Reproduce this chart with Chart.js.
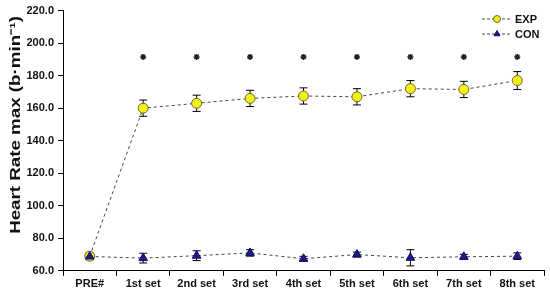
<!DOCTYPE html>
<html>
<head>
<meta charset="utf-8">
<script src="https://cdn.jsdelivr.net/npm/chart.js@4.4.1/dist/chart.umd.min.js"></script>
<style>
  html, body { margin: 0; padding: 0; background: #fff; }
  #wrap { width: 550px; height: 293px; }
</style>
</head>
<body>
<div id="wrap"><canvas id="chart"></canvas></div>
<script>
// categories and values
const categories = ['PRE#', '1st set', '2nd set', '3rd set', '4th set', '5th set', '6th set', '7th set', '8th set'];
const expValues = [69, 160, 163, 166, 167.5, 167, 172, 171.5, 177];
const expErrors = [2, 5, 5, 5, 5, 5, 5, 5, 5.5];
const conValues = [68.8, 67.8, 69.3, 71, 67.4, 70, 68, 68.6, 69];
const conErrors = [2, 3, 3, 2, 1.5, 1.5, 5, 1.5, 2];
const starValues = [null, 191.5, 191.5, 191.5, 191.5, 191.5, 191.5, 191.5, 191.5];
const yTicks = [60, 80, 100, 120, 140, 160, 180, 200, 220];
const yTitle = 'Heart Rate max (b·min⁻¹)';

const FONT = 'Arial, "Liberation Sans", sans-serif';

// error bars, drawn under the markers
const errorBars = {
    id: 'errorBars',
    beforeDatasetsDraw(chart) {
        const ctx = chart.ctx;
        const y = chart.scales.y;
        const sets = [[0, expValues, expErrors], [1, conValues, conErrors]];
        ctx.save();
        ctx.strokeStyle = '#000';
        ctx.lineWidth = 1;
        sets.forEach(([idx, vals, errs]) => {
            const meta = chart.getDatasetMeta(idx);
            meta.data.forEach((pt, i) => {
                const top = y.getPixelForValue(vals[i] + errs[i]);
                const bot = y.getPixelForValue(vals[i] - errs[i]);
                ctx.beginPath();
                ctx.moveTo(pt.x, top); ctx.lineTo(pt.x, bot);
                ctx.moveTo(pt.x - 4, top); ctx.lineTo(pt.x + 4, top);
                ctx.moveTo(pt.x - 4, bot); ctx.lineTo(pt.x + 4, bot);
                ctx.stroke();
            });
        });
        ctx.restore();
    }
};

// y title, a bit stretched along its length like the original
const yTitlePlugin = {
    id: 'yTitlePlugin',
    afterDraw(chart) {
        const ctx = chart.ctx;
        ctx.save();
        ctx.translate(15.5, 125);
        ctx.rotate(-Math.PI / 2);
        ctx.scale(1.25, 1);
        ctx.fillStyle = '#111';
        ctx.font = 'bold 15px ' + FONT;
        ctx.textAlign = 'center';
        ctx.textBaseline = 'middle';
        ctx.fillText(yTitle, 0, 0);
        ctx.restore();
    }
};

// legend with dashed line + marker, top right
const lineLegend = {
    id: 'lineLegend',
    afterDraw(chart) {
        const ctx = chart.ctx;
        const items = [
            { text: 'EXP', y: 19, ds: chart.data.datasets[0] },
            { text: 'CON', y: 34, ds: chart.data.datasets[1] }
        ];
        ctx.save();
        items.forEach(it => {
            ctx.strokeStyle = '#444';
            ctx.lineWidth = 1;
            ctx.setLineDash([3, 2]);
            ctx.beginPath();
            ctx.moveTo(482, it.y); ctx.lineTo(511, it.y);
            ctx.stroke();
            ctx.setLineDash([]);
            ctx.fillStyle = it.ds.pointBackgroundColor;
            ctx.strokeStyle = it.ds.pointBorderColor;
            Chart.helpers.drawPoint(ctx, {
                pointStyle: it.ds.pointStyle,
                radius: 3.5,
                borderWidth: 1
            }, 497, it.y);
            ctx.fillStyle = '#111';
            ctx.font = 'bold 11px ' + FONT;
            ctx.textBaseline = 'middle';
            ctx.fillText(it.text, 515, it.y + 1);
        });
        ctx.restore();
    }
};

new Chart(document.getElementById('chart'), {
    type: 'line',
    data: {
        labels: categories,
        datasets: [
            {
                label: 'EXP',
                data: expValues,
                order: 1,
                borderColor: '#444',
                borderWidth: 1,
                borderDash: [3, 3],
                pointStyle: 'circle',
                pointRadius: 5,
                pointBackgroundColor: '#f2ef1c',
                pointBorderColor: '#6b6b20',
                pointBorderWidth: 1,
                tension: 0
            },
            {
                label: 'CON',
                data: conValues,
                order: 0,
                borderColor: '#444',
                borderWidth: 1,
                borderDash: [3, 3],
                pointStyle: 'triangle',
                pointRadius: 5,
                pointBackgroundColor: '#1a1a90',
                pointBorderColor: '#10105a',
                pointBorderWidth: 1,
                tension: 0
            },
            {
                label: 'sig',
                data: starValues,
                order: 2,
                showLine: false,
                pointStyle: 'star',
                pointRadius: 3,
                pointBorderColor: '#222',
                pointBorderWidth: 1.5,
                pointBackgroundColor: '#222'
            }
        ]
    },
    options: {
        responsive: true,
        maintainAspectRatio: false,
        animation: false,
        layout: { padding: { top: 5, right: 5, left: 0, bottom: 0 } },
        plugins: {
            legend: { display: false },
            tooltip: { enabled: false }
        },
        scales: {
            x: {
                offset: true,
                grid: {
                    display: true,
                    offset: true,
                    drawOnChartArea: false,
                    drawTicks: true,
                    tickLength: 5,
                    color: '#000'
                },
                border: { display: true, color: '#000', width: 1 },
                ticks: {
                    color: '#111',
                    font: { family: FONT, size: 11, weight: 'bold' },
                    padding: 2,
                    maxRotation: 0,
                    autoSkip: false
                }
            },
            y: {
                min: 60,
                max: 220,
                afterBuildTicks(scale) {
                    scale.ticks = yTicks.map(v => ({ value: v }));
                },
                afterFit(scale) { scale.width = 63; },
                grid: {
                    display: true,
                    drawOnChartArea: false,
                    drawTicks: true,
                    tickLength: 5,
                    color: '#000'
                },
                border: { display: true, color: '#000', width: 1 },
                ticks: {
                    color: '#111',
                    font: { family: FONT, size: 11, weight: 'bold' },
                    padding: 4,
                    callback: v => v.toFixed(1)
                },
                title: { display: false }
            }
        }
    },
    plugins: [errorBars, yTitlePlugin, lineLegend]
});
</script>
</body>
</html>
